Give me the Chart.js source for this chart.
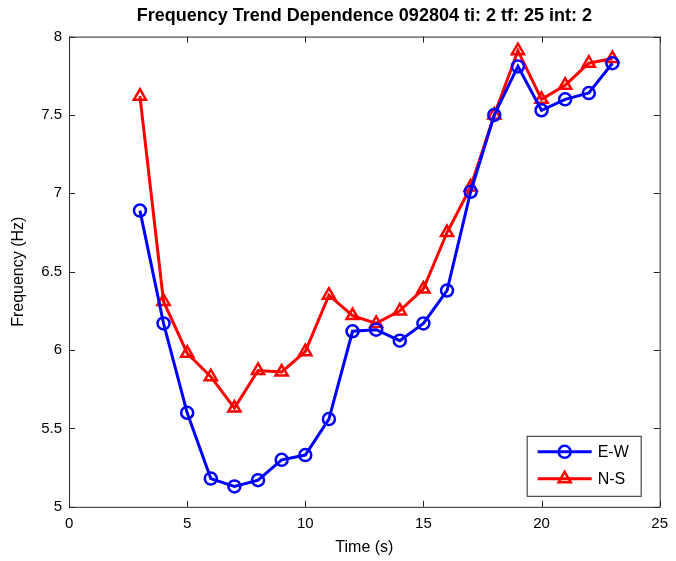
<!DOCTYPE html>
<html>
<head>
<meta charset="utf-8">
<script src="https://cdn.jsdelivr.net/npm/chart.js"></script>
<style>
  html, body { margin: 0; padding: 0; background: #ffffff; }
  #wrap { width: 676px; height: 561px; }
</style>
</head>
<body>
<div id="wrap"><canvas id="freq"></canvas></div>
<script>
const times = [3, 4, 5, 6, 7, 8, 9, 10, 11, 12, 13, 14, 15, 16, 17, 18, 19, 20, 21, 22, 23];
const eastWest = [6.89, 6.17, 5.60, 5.18, 5.13, 5.17, 5.30, 5.33, 5.56, 6.12, 6.13, 6.06, 6.17, 6.38, 7.01, 7.50, 7.81, 7.53, 7.60, 7.64, 7.83];
const northSouth = [7.62, 6.31, 5.98, 5.83, 5.63, 5.87, 5.86, 5.99, 6.35, 6.22, 6.17, 6.25, 6.39, 6.75, 7.04, 7.50, 7.91, 7.60, 7.69, 7.83, 7.86];

const toPoints = (ys) => ys.map((y, i) => ({ x: times[i], y: y }));

Chart.defaults.color = '#000000';
Chart.defaults.font.family = 'Liberation Sans, Arial, sans-serif';
Chart.defaults.font.size = 13;

// matlab style box, inward ticks and legend in the lower right corner
const matlabAxes = {
  id: 'matlabAxes',
  afterDatasetsDraw(chart) {
    const { ctx, chartArea: a, scales } = chart;
    ctx.save();
    ctx.strokeStyle = '#262626';
    ctx.lineWidth = 1;
    ctx.strokeRect(a.left + 0.5, a.top + 0.5, a.right - a.left, a.bottom - a.top);
    const len = 6;
    ctx.beginPath();
    scales.x.ticks.forEach(t => {
      const px = Math.round(scales.x.getPixelForValue(t.value)) + 0.5;
      ctx.moveTo(px, a.bottom); ctx.lineTo(px, a.bottom - len);
      ctx.moveTo(px, a.top); ctx.lineTo(px, a.top + len);
    });
    scales.y.ticks.forEach(t => {
      const py = Math.round(scales.y.getPixelForValue(t.value)) + 0.5;
      ctx.moveTo(a.left, py); ctx.lineTo(a.left + len, py);
      ctx.moveTo(a.right, py); ctx.lineTo(a.right - len, py);
    });
    ctx.stroke();

    // legend
    const w = 114, h = 60;
    const lx = a.right - 19 - w, ly = a.bottom - 11 - h;
    ctx.fillStyle = '#ffffff';
    ctx.fillRect(lx, ly, w, h);
    ctx.strokeStyle = '#262626';
    ctx.strokeRect(lx + 0.5, ly + 0.5, w, h);
    chart.data.datasets.forEach((ds, i) => {
      const cy = ly + 16 + i * 27;
      ctx.strokeStyle = ds.borderColor;
      ctx.lineWidth = 3;
      ctx.beginPath();
      ctx.moveTo(lx + 11, cy); ctx.lineTo(lx + 65, cy);
      ctx.stroke();
      ctx.fillStyle = 'rgba(0,0,0,0)';
      ctx.lineWidth = ds.pointBorderWidth;
      Chart.helpers.drawPoint(ctx, {
        pointStyle: ds.pointStyle, radius: ds.pointRadius, borderWidth: ds.pointBorderWidth
      }, lx + 38, cy);
      ctx.fillStyle = '#000000';
      ctx.font = '16px Liberation Sans, Arial, sans-serif';
      ctx.textBaseline = 'middle';
      ctx.fillText(ds.label, lx + 71, cy + 1);
    });
    ctx.restore();
  }
};

new Chart(document.getElementById('freq'), {
  type: 'line',
  data: {
    datasets: [{
      label: 'E-W',
      data: toPoints(eastWest),
      borderColor: '#0000ff',
      backgroundColor: 'rgba(0,0,0,0)',
      borderWidth: 3,
      pointStyle: 'circle',
      pointRadius: 6,
      pointBorderWidth: 2.5,
      pointBackgroundColor: 'rgba(0,0,0,0)',
      tension: 0
    }, {
      label: 'N-S',
      data: toPoints(northSouth),
      borderColor: '#ff0000',
      backgroundColor: 'rgba(0,0,0,0)',
      borderWidth: 3,
      pointStyle: 'triangle',
      pointRadius: 7,
      pointBorderWidth: 2.5,
      pointBackgroundColor: 'rgba(0,0,0,0)',
      tension: 0
    }]
  },
  options: {
    responsive: true,
    maintainAspectRatio: false,
    animation: false,
    layout: { padding: { left: 9, right: 13, top: 3, bottom: 4 } },
    plugins: {
      legend: { display: false },
      tooltip: { enabled: false },
      title: {
        display: true,
        fullSize: false,
        text: 'Frequency Trend Dependence 092804 ti: 2 tf: 25 int: 2',
        font: { size: 18, weight: 'bold' },
        padding: { top: 2, bottom: 10 }
      }
    },
    scales: {
      x: {
        type: 'linear',
        min: 0,
        max: 25,
        ticks: { stepSize: 5, padding: 8, font: { size: 15 } },
        grid: { drawOnChartArea: false, drawTicks: false },
        border: { display: false },
        title: { display: true, text: 'Time (s)', font: { size: 16 }, padding: { top: -3, bottom: 0 } }
      },
      y: {
        min: 5,
        max: 8,
        ticks: {
          stepSize: 0.5,
          padding: 7,
          font: { size: 15 },
          callback: (v) => String(Number(v.toFixed(1)))
        },
        grid: { drawOnChartArea: false, drawTicks: false },
        border: { display: false },
        title: { display: true, text: 'Frequency (Hz)', font: { size: 16 }, padding: { top: 0, bottom: 6 } }
      }
    }
  },
  plugins: [matlabAxes]
});
</script>
</body>
</html>
